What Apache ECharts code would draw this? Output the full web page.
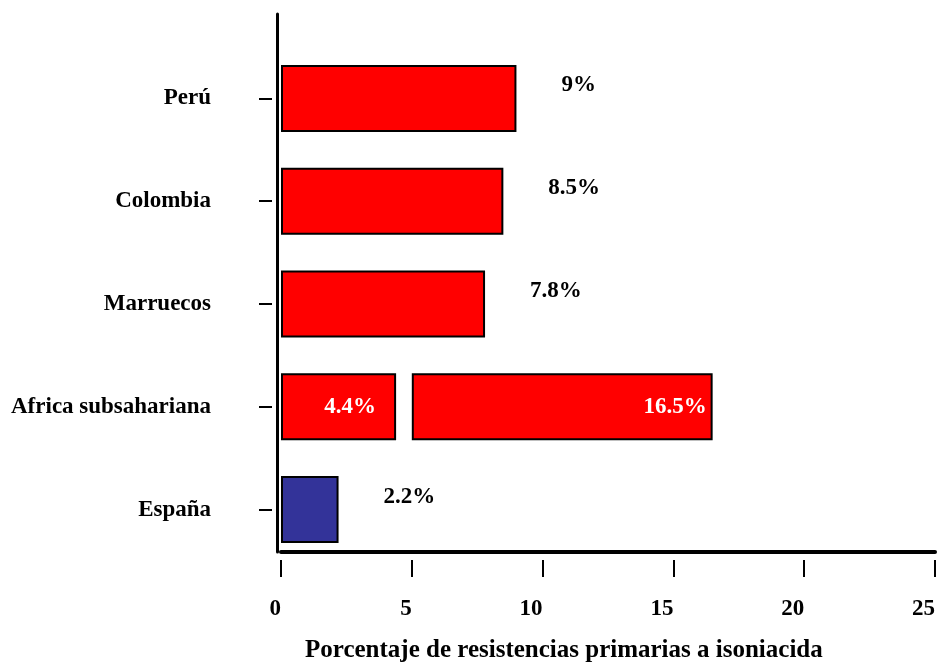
<!DOCTYPE html>
<html>
<head>
<meta charset="utf-8">
<script src="https://cdn.jsdelivr.net/npm/echarts@6/dist/echarts.min.js"></script>
<style>
  html, body { margin: 0; padding: 0; background: #fff; }
  #chart { width: 938px; height: 663px; }
</style>
</head>
<body>
<div id="chart"></div>
<script>
// Primary isoniazid resistance by origin (%)
const categories = ['España', 'Africa subsahariana', 'Marruecos', 'Colombia', 'Perú'];
const resistance = [2.2, 4.4, 7.8, 8.5, 9];
// Second Africa subsahariana figure, drawn as a floating bar
const africaHighStart = 5;
const africaHigh = 16.5;
const xTicks = [0, 5, 10, 15, 20, 25];

const FONT = "'Liberation Serif', 'Times New Roman', serif";
const RED = '#ff0000';
const BLUE = '#333399';
const africaIdx = categories.indexOf('Africa subsahariana');

const textStyle = { fontFamily: FONT, fontWeight: 'bold', fontSize: 23, color: '#000' };

const mainData = resistance.map((v, i) => {
  const item = {
    value: v,
    itemStyle: { color: categories[i] === 'España' ? BLUE : RED }
  };
  if (i === africaIdx) {
    item.label = { position: 'insideRight', distance: 20, offset: [0, 0], color: '#fff' };
  }
  return item;
});
const gapData = categories.map((c, i) => (i === africaIdx ? africaHighStart : null));
const highData = categories.map((c, i) => (i === africaIdx ? africaHigh - africaHighStart : null));

const chart = echarts.init(document.getElementById('chart'), null, { renderer: 'canvas' });

const BAR_W = 67;

chart.setOption({
  animation: false,
  backgroundColor: '#fff',
  title: {
    text: 'Porcentaje de resistencias primarias a isoniacida',
    left: 305,
    top: 638,
    padding: 0,
    textStyle: Object.assign({}, textStyle, { fontSize: 25 })
  },
  grid: [
    // frame: axis lines, x ticks and labels
    { left: 281, right: 3, top: 14, bottom: 111 },
    // bars and category labels
    { left: 281, right: 3, top: 47, bottom: 102 }
  ],
  xAxis: [
    {
      gridIndex: 0, type: 'value', min: xTicks[0], max: xTicks[xTicks.length - 1], interval: 5,
      axisLine: { show: true, onZero: false, lineStyle: { color: '#000', width: 4 } },
      axisTick: { show: false }, axisLabel: { show: false }, splitLine: { show: false }
    },
    {
      gridIndex: 0, type: 'value', min: xTicks[0], max: xTicks[xTicks.length - 1], interval: 5,
      position: 'bottom', offset: 8,
      axisLine: { show: false, onZero: false },
      axisTick: { show: true, length: 17, lineStyle: { color: '#000', width: 2 } },
      axisLabel: Object.assign({ show: true, margin: 38, align: 'right' }, textStyle),
      splitLine: { show: false }
    },
    {
      gridIndex: 1, type: 'value', min: xTicks[0], max: xTicks[xTicks.length - 1], interval: 5,
      show: false
    }
  ],
  yAxis: [
    {
      gridIndex: 0, type: 'category', data: categories, offset: 4,
      axisLine: { show: true, onZero: false, lineStyle: { color: '#000', width: 3 } },
      axisTick: { show: false }, axisLabel: { show: false }
    },
    {
      gridIndex: 1, type: 'category', data: categories, offset: 9,
      axisLine: { show: false, onZero: false },
      axisTick: { show: true, length: 13, alignWithLabel: true, lineStyle: { color: '#000', width: 2 } },
      axisLabel: Object.assign({ margin: 61 }, textStyle)
    }
  ],
  series: [
    {
      type: 'bar', name: 'resistencia', xAxisIndex: 2, yAxisIndex: 1, stack: 'low',
      barWidth: BAR_W, barGap: '-100%',
      data: mainData,
      itemStyle: { borderColor: '#000', borderWidth: 2 },
      label: Object.assign({
        show: true, position: 'right', distance: 45, offset: [0, -13],
        formatter: '{c}%'
      }, textStyle)
    },
    {
      type: 'bar', name: 'base', xAxisIndex: 2, yAxisIndex: 1, stack: 'high',
      barWidth: BAR_W, barGap: '-100%',
      data: gapData,
      itemStyle: { color: 'rgba(0,0,0,0)', borderWidth: 0 },
      silent: true
    },
    {
      type: 'bar', name: 'resistencia2', xAxisIndex: 2, yAxisIndex: 1, stack: 'high',
      barWidth: BAR_W, barGap: '-100%',
      data: highData,
      itemStyle: { color: RED, borderColor: '#000', borderWidth: 2 },
      label: Object.assign({
        show: true, position: 'insideRight', distance: 6,
        formatter: () => africaHigh + '%'
      }, textStyle, { color: '#fff' })
    }
  ]
});
</script>
</body>
</html>
